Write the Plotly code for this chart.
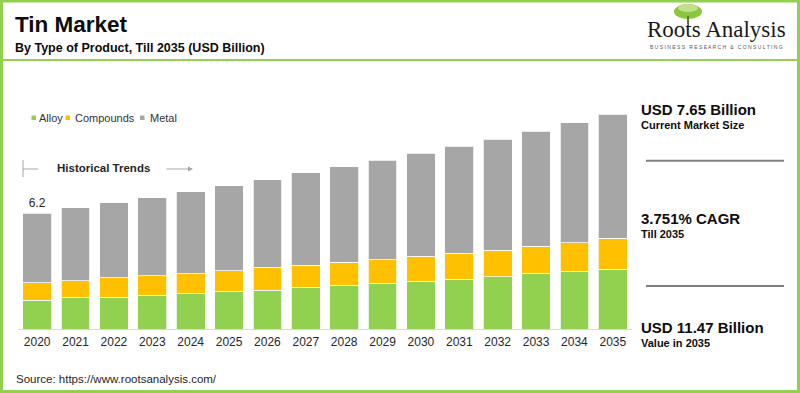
import plotly.graph_objects as go

years = [str(y) for y in range(2020, 2036)]
alloy = [1.55, 1.66, 1.71, 1.78, 1.89, 1.98, 2.08, 2.23, 2.30, 2.41, 2.53, 2.67, 2.78, 2.94, 3.05, 3.19]
compounds = [0.92, 0.92, 1.02, 1.07, 1.07, 1.14, 1.21, 1.18, 1.27, 1.30, 1.36, 1.37, 1.44, 1.48, 1.55, 1.66]
metal = [3.73, 3.89, 4.02, 4.17, 4.37, 4.54, 4.69, 4.93, 5.11, 5.31, 5.51, 5.73, 5.93, 6.15, 6.43, 6.62]
series_names = ["Alloy", "Compounds", "Metal"]
series_colors = ["#92D050", "#FFC000", "#A6A6A6"]
bar_labels = ["6.2"] + [""] * 15

W, H = 800, 393
L, R, T, B = 18, 168, 100, 64
PW, PH = W - L - R, H - T - B
FONT = "Liberation Sans, Arial, sans-serif"


def xp(px):
    return (px - L) / PW


def yp(py):
    return (H - B - py) / PH


fig = go.Figure()
for name, vals, col in zip(series_names, [alloy, compounds, metal], series_colors):
    kw = {}
    if name == "Metal":
        kw = dict(text=bar_labels, textposition="outside", cliponaxis=False,
                  textfont=dict(family=FONT, size=12, color="#262626"))
    fig.add_trace(go.Bar(
        x=years, y=vals, name=name,
        marker=dict(color=col, line=dict(color="rgba(255,255,255,0.75)", width=1)),
        showlegend=False, hoverinfo="x+y+name", **kw,
    ))

shapes = []
annotations = []

# border
green = "#92D050"
shapes.append(dict(type="rect", xref="paper", yref="paper", x0=xp(1.5), x1=xp(798.5), y0=yp(1), y1=yp(391.5),
                   line=dict(color=green, width=3), fillcolor="rgba(0,0,0,0)", layer="above"))
# header separator
shapes.append(dict(type="line", xref="paper", yref="paper", x0=xp(0), x1=xp(800), y0=yp(60), y1=yp(60),
                   line=dict(color=green, width=2)))

# title + subtitle
annotations.append(dict(text="<b>Tin Market</b>", xref="paper", yref="paper", x=xp(13), y=yp(24.5),
                        xanchor="left", yanchor="middle", showarrow=False,
                        font=dict(family=FONT, size=22.5, color="#0d0d0d")))
annotations.append(dict(text="<b>By Type of Product, Till 2035 (USD Billion)</b>", xref="paper", yref="paper",
                        x=xp(13), y=yp(48), xanchor="left", yanchor="middle", showarrow=False,
                        font=dict(family=FONT, size=12.5, color="#0d0d0d")))

# logo
shapes.append(dict(type="circle", xref="paper", yref="paper", x0=xp(674), x1=xp(702), y0=yp(4), y1=yp(19),
                   fillcolor="#8cc63f", line=dict(width=0)))
shapes.append(dict(type="circle", xref="paper", yref="paper", x0=xp(678), x1=xp(698), y0=yp(4), y1=yp(12),
                   fillcolor="#c2e08a", line=dict(width=0)))
shapes.append(dict(type="line", xref="paper", yref="paper", x0=xp(688), x1=xp(688), y0=yp(16), y1=yp(24),
                   line=dict(color="#5a7a3a", width=2)))
annotations.append(dict(text="Roots Analysis", xref="paper", yref="paper", x=xp(716), y=yp(29),
                        xanchor="center", yanchor="middle", showarrow=False,
                        font=dict(family="Liberation Serif, Times New Roman, serif", size=23, color="#1a1a1a")))
annotations.append(dict(text="B U S I N E S S   R E S E A R C H   &   C O N S U L T I N G", xref="paper", yref="paper",
                        x=xp(716), y=yp(47), xanchor="center", yanchor="middle", showarrow=False,
                        font=dict(family=FONT, size=5, color="#555555")))

# legend (manual)
legend_sq = [31.5, 65.5, 140]
legend_tx = [36.5, 72.5, 148]
for name, col, sx, tx in zip(series_names, series_colors, legend_sq, legend_tx):
    shapes.append(dict(type="rect", xref="paper", yref="paper", x0=xp(sx), x1=xp(sx + 4.5), y0=yp(115.5), y1=yp(120),
                       fillcolor=col, line=dict(width=0)))
    annotations.append(dict(text=name, xref="paper", yref="paper", x=xp(tx), y=yp(117.7),
                            xanchor="left", yanchor="middle", showarrow=False,
                            font=dict(family=FONT, size=11, color="#333333")))

# historical trends marker
shapes.append(dict(type="line", xref="paper", yref="paper", x0=xp(23), x1=xp(23), y0=yp(160), y1=yp(177),
                   line=dict(color="#a6a6a6", width=1)))
shapes.append(dict(type="line", xref="paper", yref="paper", x0=xp(23), x1=xp(38), y0=yp(169), y1=yp(169),
                   line=dict(color="#a6a6a6", width=1)))
annotations.append(dict(text="<b>Historical Trends</b>", xref="paper", yref="paper", x=xp(55), y=yp(167.5),
                        xanchor="left", yanchor="middle", showarrow=False,
                        font=dict(family=FONT, size=11.5, color="#262626")))
annotations.append(dict(text="", xref="paper", yref="paper", x=xp(193), y=yp(169), ax=-28, ay=0,
                        showarrow=True, arrowhead=2, arrowsize=1, arrowwidth=1, arrowcolor="#a6a6a6"))

# right panel
panel = [
    ("<b>USD 7.65 Billion</b>", 15, 109.5),
    ("<b>Current Market Size</b>", 11, 124.7),
    ("<b>3.751% CAGR</b>", 15, 218.7),
    ("<b>Till 2035</b>", 11, 233.7),
    ("<b>USD 11.47 Billion</b>", 15, 327.3),
    ("<b>Value in 2035</b>", 11, 342.8),
]
for txt, sz, cy in panel:
    annotations.append(dict(text=txt, xref="paper", yref="paper", x=xp(639.5), y=yp(cy),
                            xanchor="left", yanchor="middle", showarrow=False,
                            font=dict(family=FONT, size=sz, color="#0d0d0d")))
for ly in [160.7, 286]:
    shapes.append(dict(type="line", xref="paper", yref="paper", x0=xp(646), x1=xp(784), y0=yp(ly), y1=yp(ly),
                       line=dict(color="#7f7f7f", width=2)))

# source
annotations.append(dict(text="Source: https://www.rootsanalysis.com/", xref="paper", yref="paper",
                        x=xp(14), y=yp(379), xanchor="left", yanchor="middle", showarrow=False,
                        font=dict(family=FONT, size=11.5, color="#262626")))

fig.update_layout(
    width=W, height=H,
    margin=dict(l=L, r=R, t=T, b=B, pad=0, autoexpand=False),
    barmode="stack", bargap=0.25,
    paper_bgcolor="white", plot_bgcolor="white",
    font=dict(family=FONT, size=12, color="#262626"),
    xaxis=dict(type="category", showline=True, linecolor="#d9d9d9", linewidth=1, ticks="",
               showgrid=False, tickfont=dict(size=12, color="#262626"), fixedrange=True, automargin=False,
               ticklabelstandoff=2),
    yaxis=dict(range=[0, PH / 18.71], visible=False, showgrid=False, fixedrange=True, automargin=False),
    shapes=shapes, annotations=annotations,
    showlegend=False,
)

fig.write_html("out.html", config={"displayModeBar": False},
               post_script="document.body.style.margin='0';document.body.style.overflow='hidden';")
